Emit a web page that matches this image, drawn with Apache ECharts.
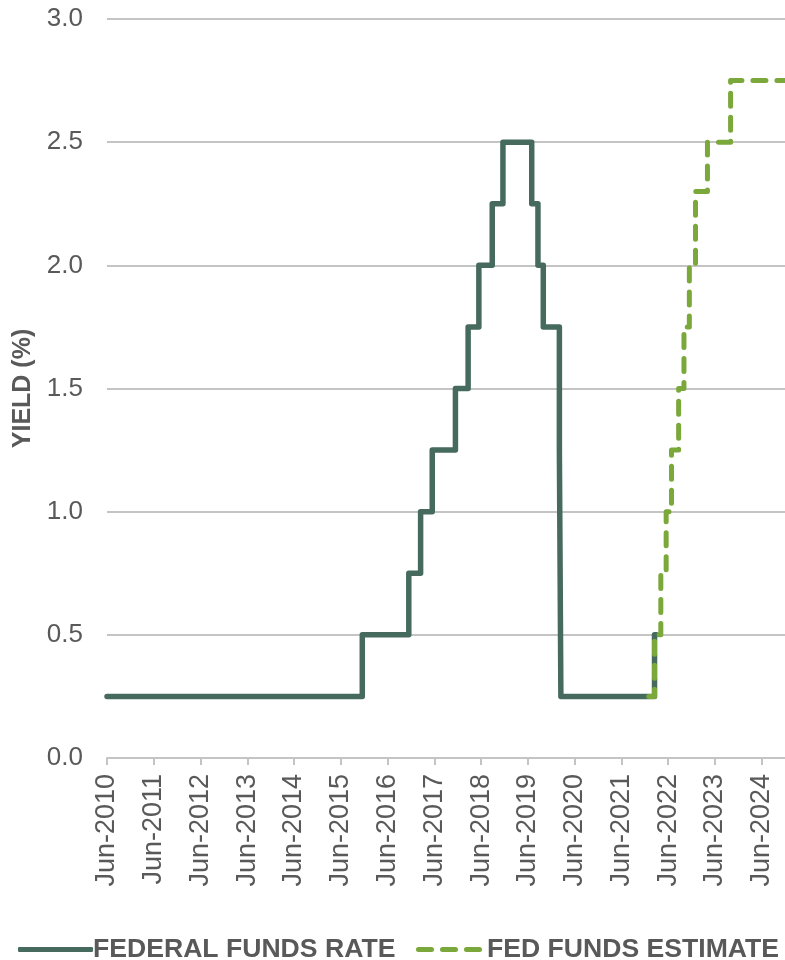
<!DOCTYPE html>
<html>
<head>
<meta charset="utf-8">
<title>Federal Funds Rate</title>
<script src="https://cdn.jsdelivr.net/npm/echarts@6/dist/echarts.min.js"></script>
<style>
  html, body { margin: 0; padding: 0; background: #ffffff; }
  #chart { width: 785px; height: 960px; }
</style>
</head>
<body>
<div id="chart"></div>
<script>
// Federal funds target rate (upper bound): date of each change and the new level
const fedDates = ['2010-06-30', '2015-12-16', '2016-12-14', '2017-03-15', '2017-06-14', '2017-12-13',
  '2018-03-21', '2018-06-13', '2018-09-26', '2018-12-19', '2019-07-31', '2019-09-18',
  '2019-10-30', '2020-03-03', '2020-03-15', '2022-03-16', '2022-03-31'];
const fedRates = [0.25, 0.5, 0.75, 1.0, 1.25, 1.5, 1.75, 2.0, 2.25, 2.5, 2.25, 2.0,
  1.75, 1.25, 0.25, 0.5, 0.5];

// Market-implied path of the policy rate
const estDates = ['2022-02-01', '2022-03-16', '2022-05-04', '2022-06-15', '2022-07-27', '2022-09-21',
  '2022-11-02', '2022-12-14', '2023-02-01', '2023-05-03', '2023-11-01', '2024-12-31'];
const estRates = [0.25, 0.5, 0.75, 1.0, 1.25, 1.5, 1.75, 2.0, 2.3, 2.5, 2.75, 2.75];

// Axis ticks: one per year, every June
const xTickYears = [2010, 2011, 2012, 2013, 2014, 2015, 2016, 2017, 2018, 2019, 2020, 2021, 2022, 2023, 2024];
const yTicks = [0, 0.5, 1.0, 1.5, 2.0, 2.5, 3.0];

const seriesNames = ['FEDERAL FUNDS RATE', 'FED FUNDS ESTIMATE'];

// Month-end of June 2010 is the origin; x is measured in months from there
function monthIndex(s) {
  const [y, m, d] = s.split('-').map(Number);
  const dim = new Date(y, m, 0).getDate();
  return (y - 2010) * 12 + (m - 7) + d / dim;
}
const toPoints = (dates, vals) => dates.map((d, i) => [monthIndex(d), vals[i]]);

const FONT = '"Liberation Sans", Arial, Helvetica, sans-serif';
const GREY_TEXT = '#595959';
const GRID_GREY = '#c4c4c4';
const DARK = '#466b5e';
const LIGHT = '#7aa83a';

// Legend keys: a solid bar and three rounded dashes
const dashPiece = x => `M${x + 2.5},0 h13 a2.5,2.5 0 0 1 0,5 h-13 a2.5,2.5 0 0 1 0,-5 z`;
const dashedIcon = 'path://' + dashPiece(0) + ' ' + dashPiece(24) + ' ' + dashPiece(48);

const chart = echarts.init(document.getElementById('chart'), null, { renderer: 'canvas' });

const legendText = { fontFamily: FONT, fontSize: 26.6, fontWeight: 'bold', color: GREY_TEXT };

chart.setOption({
  animation: false,
  backgroundColor: '#ffffff',
  textStyle: { fontFamily: FONT },
  grid: { left: 107, right: 0, top: 19, bottom: 202, containLabel: false },
  legend: [
    {
      data: [{ name: seriesNames[0], icon: 'roundRect' }],
      left: 13, top: 931,
      itemWidth: 75, itemHeight: 5, itemGap: 0,
      textStyle: Object.assign({}, legendText, { padding: [0, 0, 0, -5] })
    },
    {
      data: [{ name: seriesNames[1], icon: dashedIcon }],
      left: 411, top: 931,
      itemWidth: 66, itemHeight: 5, itemGap: 0,
      textStyle: Object.assign({}, legendText, { padding: [0, 0, 0, 0] })
    }
  ],
  xAxis: {
    type: 'value',
    min: 0,
    max: 174,
    interval: 12,
    axisLine: { show: true, lineStyle: { color: GRID_GREY, width: 2 } },
    axisTick: { show: true, length: 7, lineStyle: { color: GRID_GREY, width: 2 } },
    splitLine: { show: false },
    axisLabel: {
      rotate: 90,
      margin: 16,
      fontFamily: FONT,
      fontSize: 27,
      color: GREY_TEXT,
      showMaxLabel: false,
      formatter: v => {
        const yr = 2010 + v / 12;
        return xTickYears.includes(yr) ? 'Jun-' + yr : '';
      }
    }
  },
  yAxis: {
    type: 'value',
    min: yTicks[0],
    max: yTicks[yTicks.length - 1],
    interval: 0.5,
    name: 'YIELD (%)',
    nameLocation: 'middle',
    nameRotate: 90,
    nameGap: 71,
    nameTextStyle: { fontFamily: FONT, fontSize: 25, fontWeight: 'bold', color: GREY_TEXT },
    axisLine: { show: false },
    axisTick: { show: false },
    splitLine: { show: true, lineStyle: { color: GRID_GREY, width: 2 } },
    axisLabel: {
      margin: 24,
      fontFamily: FONT,
      fontSize: 26,
      color: GREY_TEXT,
      formatter: v => v.toFixed(1)
    }
  },
  series: [
    {
      name: seriesNames[0],
      type: 'line',
      step: 'end',
      showSymbol: false,
      symbol: 'none',
      data: toPoints(fedDates, fedRates),
      itemStyle: { color: DARK },
      lineStyle: { color: DARK, width: 5.5, cap: 'round', join: 'round' },
      z: 2
    },
    {
      name: seriesNames[1],
      type: 'line',
      step: 'end',
      showSymbol: false,
      symbol: 'none',
      data: toPoints(estDates, estRates),
      itemStyle: { color: LIGHT },
      lineStyle: { color: LIGHT, width: 5, type: [13, 11], cap: 'round', join: 'round' },
      z: 3
    }
  ]
});
</script>
</body>
</html>
